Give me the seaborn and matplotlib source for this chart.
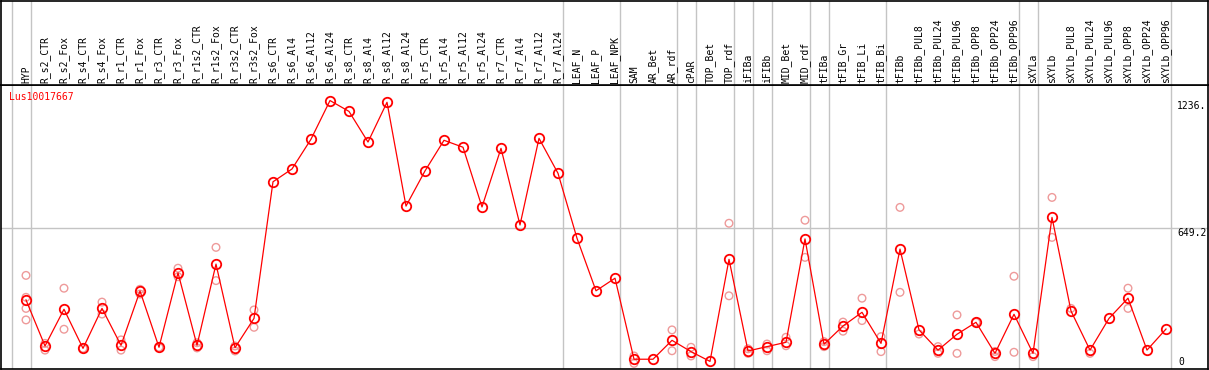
import matplotlib
matplotlib.use('Agg')
import matplotlib.pyplot as plt
import seaborn as sns
import pandas as pd
import numpy as np

samples = ['HYP', 'R_s2_CTR', 'R_s2_Fox', 'R_s4_CTR', 'R_s4_Fox', 'R_r1_CTR', 'R_r1_Fox',
           'R_r3_CTR', 'R_r3_Fox', 'R_r1s2_CTR', 'R_r1s2_Fox', 'R_r3s2_CTR', 'R_r3s2_Fox',
           'R_s6_CTR', 'R_s6_Al4', 'R_s6_Al12', 'R_s6_Al24', 'R_s8_CTR', 'R_s8_Al4',
           'R_s8_Al12', 'R_s8_Al24', 'R_r5_CTR', 'R_r5_Al4', 'R_r5_Al12', 'R_r5_Al24',
           'R_r7_CTR', 'R_r7_Al4', 'R_r7_Al12', 'R_r7_Al24', 'LEAF_N', 'LEAF_P', 'LEAF_NPK',
           'SAM', 'AR_Bet', 'AR_rdf', 'cPAR', 'TOP_Bet', 'TOP_rdf', 'iFIBa', 'iFIBb',
           'MID_Bet', 'MID_rdf', 'tFIBa', 'tFIB_Gr', 'tFIB_Li', 'tFIB_Bi', 'tFIBb',
           'tFIBb_PUL8', 'tFIBb_PUL24', 'tFIBb_PUL96', 'tFIBb_OPP8', 'tFIBb_OPP24',
           'tFIBb_OPP96', 'sXYLa', 'sXYLb', 'sXYLb_PUL8', 'sXYLb_PUL24', 'sXYLb_PUL96',
           'sXYLb_OPP8', 'sXYLb_OPP24', 'sXYLb_OPP96']

means = [318, 106, 275, 95, 279, 109, 359, 100, 443, 109, 483, 98, 233,
         862, 921, 1058, 1236, 1186, 1045, 1228, 750, 912, 1053, 1021, 746,
         1016, 663, 1062, 901, 602, 360, 418,
         45, 45, 132, 80, 35, 505, 83, 103, 123, 599, 114, 198, 261, 118, 552,
         180, 87, 160, 215, 72, 252, 72, 698, 267, 87, 233, 326, 87, 184]

rep_samples = ['HYP', 'HYP', 'HYP', 'HYP', 'R_s2_CTR', 'R_s2_CTR', 'R_s2_Fox', 'R_s2_Fox',
               'R_s4_CTR', 'R_s4_Fox', 'R_s4_Fox', 'R_r1_CTR', 'R_r1_CTR', 'R_r1_Fox',
               'R_r1_Fox', 'R_r3_CTR', 'R_r3_Fox', 'R_r3_Fox', 'R_r1s2_CTR', 'R_r1s2_CTR',
               'R_r1s2_Fox', 'R_r1s2_Fox', 'R_r3s2_CTR', 'R_r3s2_CTR', 'R_r3s2_Fox',
               'R_r3s2_Fox', 'SAM', 'SAM', 'AR_rdf', 'AR_rdf', 'cPAR', 'cPAR',
               'TOP_rdf', 'TOP_rdf', 'iFIBa', 'iFIBa', 'iFIBb', 'iFIBb', 'MID_Bet',
               'MID_Bet', 'MID_rdf', 'MID_rdf', 'tFIBa', 'tFIBa', 'tFIB_Gr', 'tFIB_Gr',
               'tFIB_Li', 'tFIB_Li', 'tFIB_Bi', 'tFIB_Bi', 'tFIBb', 'tFIBb',
               'tFIBb_PUL8', 'tFIBb_PUL24', 'tFIBb_PUL24', 'tFIBb_PUL96', 'tFIBb_PUL96',
               'tFIBb_OPP8', 'tFIBb_OPP24', 'tFIBb_OPP24', 'tFIBb_OPP96', 'tFIBb_OPP96',
               'sXYLa', 'sXYLb', 'sXYLb', 'sXYLb_PUL8', 'sXYLb_PUL24', 'sXYLb_OPP8',
               'sXYLb_OPP8']
rep_values = [431, 330, 279, 226, 118, 87, 372, 183,
              95, 308, 253, 134, 87, 367,
              345, 100, 464, 425, 121, 97,
              560, 407, 106, 83, 272,
              192, 60, 26, 180, 84, 100, 60,
              671, 337, 93, 72, 115, 84, 146,
              107, 685, 514, 126, 103, 216, 174,
              326, 223, 149, 80, 744, 353,
              161, 103, 72, 249, 72,
              215, 81, 57, 427, 77,
              57, 790, 606, 279, 72, 372,
              279]

# group separators sit just right of these sample indices
group_ends = [-1, 0, 28, 31, 34, 35, 37, 38, 39, 41, 42, 45, 52, 53, 60]
y_max_label = 1236
y_mid = 649.2

df = pd.DataFrame({'pos': np.arange(len(samples)), 'value': means})
pos_of = {s: i for i, s in enumerate(samples)}
reps = pd.DataFrame({'pos': [pos_of[s] for s in rep_samples], 'value': rep_values})

W, H = 1209, 370
fig = plt.figure(figsize=(W / 100, H / 100), dpi=100)
xlim = ((1 - 26) / 19, (1208 - 26) / 19)
ylim = (0, 284 / 0.2172)

ax = fig.add_axes([1 / W, (H - 369) / H, 1207 / W, 284 / H])
hd = fig.add_axes([1 / W, (H - 85) / H, 1207 / W, 84 / H])

for a in (ax, hd):
    a.set_xlim(*xlim)
    a.set_xticks([])
    a.set_yticks([])
    for s in a.spines.values():
        s.set_color('black')
        s.set_linewidth(1.2)
    for g in group_ends:
        a.axvline(g + 0.25, color='#c4c4c4', lw=1.0, zorder=0)

ax.set_ylim(*ylim)
ax.axhline(y_mid, color='#c4c4c4', lw=1.0, zorder=0)

sns.scatterplot(data=reps, x='pos', y='value', ax=ax, marker='o', s=30,
                facecolor='none', edgecolor='#ee9a9a', linewidth=1.0, zorder=2)
sns.lineplot(data=df, x='pos', y='value', ax=ax, color='red', lw=0.9,
             marker='o', markersize=6.8, markerfacecolor='none',
             markeredgecolor='red', markeredgewidth=1.3, zorder=3)
ax.set_xlabel('')
ax.set_ylabel('')
ax.set_xlim(*xlim)
ax.set_ylim(*ylim)

mono = 'DejaVu Sans Mono'
for i, s in enumerate(samples):
    hd.text(i, 0.025, s, rotation=90, ha='center', va='bottom',
            transform=hd.get_xaxis_transform(), fontsize=7, family=mono)

xr = (1177 - 26) / 19
ax.text(xr, y_max_label, '1236.', ha='left', va='top', fontsize=7, family=mono)
ax.text(xr, y_mid, '649.2', ha='left', va='top', fontsize=7, family=mono)
ax.text(xr + 0.05, 18, '0', ha='left', va='baseline', fontsize=7, family=mono)

fig.text(9 / W, 1 - 92 / H, 'Lus10017667', color='red', ha='left', va='top',
         fontsize=7, family=mono)

fig.savefig('out.png', dpi=100)
